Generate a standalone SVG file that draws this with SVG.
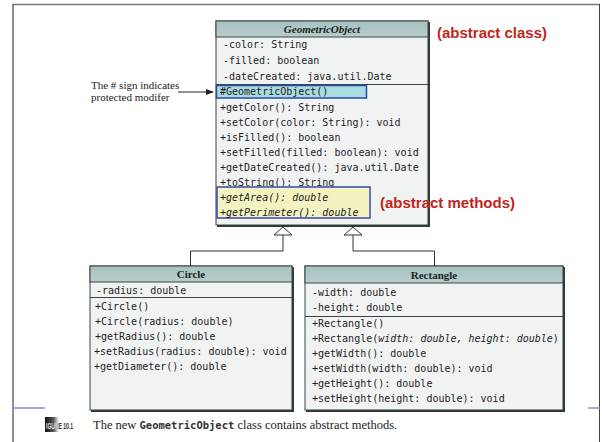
<svg xmlns="http://www.w3.org/2000/svg" width="602" height="442" viewBox="0 0 602 442">
<defs>
<linearGradient id="hdr" x1="0" y1="0" x2="0" y2="1">
<stop offset="0" stop-color="#a7c2bf"/><stop offset="1" stop-color="#b7cecb"/>
</linearGradient>
<linearGradient id="fig" x1="0" y1="0" x2="1" y2="0">
<stop offset="0" stop-color="#111"/><stop offset="0.6" stop-color="#555"/><stop offset="1" stop-color="#fff"/>
</linearGradient>
<linearGradient id="figtxt" x1="0" y1="0" x2="1" y2="0">
<stop offset="0" stop-color="#eee"/><stop offset="0.4" stop-color="#ccc"/><stop offset="0.5" stop-color="#333"/><stop offset="1" stop-color="#333"/>
</linearGradient>
<marker id="arr" markerWidth="8" markerHeight="6" refX="7" refY="3" orient="auto" markerUnits="userSpaceOnUse">
<path d="M0,0 L8,3 L0,6 z" fill="#222"/>
</marker>
</defs>
<style>
.box{fill:#f1f3f3;stroke:#3a4444;stroke-width:1}
.shadow{fill:none;stroke:#2f3a3a;stroke-width:2}
.hdr{fill:url(#hdr);stroke:#3a4444;stroke-width:1}
.sep{stroke:#3a4444;stroke-width:1}
.m{font-family:"DejaVu Sans Mono","Liberation Mono",monospace;font-size:10px;fill:#1e1e1e}
.it{font-style:italic}
.title{font-family:"Liberation Serif","DejaVu Serif",serif;font-weight:bold;font-size:11px;fill:#1e1e1e}
.red{font-family:"Liberation Sans",Arial,sans-serif;font-weight:bold;font-size:15px;fill:#c0251d}
.note{font-family:"Liberation Serif",serif;font-size:11px;fill:#222}
.conn{fill:none;stroke:#333;stroke-width:1}
.tri{fill:#fff;stroke:#333;stroke-width:1}
</style>
<rect width="602" height="442" fill="#fff"/>
<g id="frame">
<line x1="13" y1="4.5" x2="600" y2="4.5" stroke="#7a7a7a" stroke-width="1.5"/>
<line x1="13" y1="4" x2="13" y2="442" stroke="#222" stroke-width="1"/>
<line x1="599.5" y1="4" x2="599.5" y2="442" stroke="#444" stroke-width="1"/>
<line x1="13" y1="408" x2="45" y2="408" stroke="#8a8ad0" stroke-width="1.5"/>
<line x1="588" y1="408" x2="600" y2="408" stroke="#8a8ad0" stroke-width="1.5"/>
</g>
<g id="GeometricObject">
<rect class="box" x="216" y="21" width="212" height="204"/>
<path class="shadow" d="M429,22 L429,226 L217,226"/>
<rect class="hdr" x="216" y="21" width="212" height="16"/>
<text class="title it" x="322" y="33" text-anchor="middle">GeometricObject</text>
<text class="m" x="223" y="48">-color: String</text>
<text class="m" x="223" y="64">-filled: boolean</text>
<text class="m" x="223" y="80">-dateCreated: java.util.Date</text>
<line class="sep" x1="216" y1="84.5" x2="428" y2="84.5"/>
<rect x="216.5" y="85.5" width="150" height="12.5" fill="#a9dce0" stroke="#2a48a8" stroke-width="1.5"/>
<text class="m" x="220" y="95">#GeometricObject()</text>
<text class="m" x="220" y="111">+getColor(): String</text>
<text class="m" x="220" y="126">+setColor(color: String): void</text>
<text class="m" x="220" y="141">+isFilled(): boolean</text>
<text class="m" x="220" y="156">+setFilled(filled: boolean): void</text>
<text class="m" x="220" y="171">+getDateCreated(): java.util.Date</text>
<text class="m" x="220" y="186">+toString(): String</text>
<rect x="217" y="187" width="153" height="31" fill="#f3f3c2" stroke="#3a4aa8" stroke-width="1.5"/>
<text class="m it" x="220" y="201">+getArea(): double</text>
<text class="m it" x="220" y="216">+getPerimeter(): double</text>
</g>
<g id="Circle">
<rect class="box" x="90" y="266" width="202" height="144"/>
<path class="shadow" d="M293,267 L293,411 L91,411"/>
<rect class="hdr" x="90" y="266" width="202" height="16"/>
<text class="title" x="191" y="278" text-anchor="middle">Circle</text>
<text class="m" x="96" y="294">-radius: double</text>
<line class="sep" x1="90" y1="297.5" x2="292" y2="297.5"/>
<text class="m" x="95" y="310">+Circle()</text>
<text class="m" x="95" y="325">+Circle(radius: double)</text>
<text class="m" x="95" y="340">+getRadius(): double</text>
<text class="m" x="94" y="355">+setRadius(radius: double): void</text>
<text class="m" x="94" y="370">+getDiameter(): double</text>
</g>
<g id="Rectangle">
<rect class="box" x="305" y="266" width="258" height="144"/>
<path class="shadow" d="M564,267 L564,411 L306,411"/>
<rect class="hdr" x="305" y="266" width="258" height="17"/>
<text class="title" x="434" y="279" text-anchor="middle">Rectangle</text>
<text class="m" x="312" y="296">-width: double</text>
<text class="m" x="312" y="311">-height: double</text>
<line class="sep" x1="305" y1="316.5" x2="563" y2="316.5"/>
<text class="m" x="312" y="327">+Rectangle()</text>
<text class="m" x="312" y="342">+Rectangle(<tspan class="it">width: double, height: double</tspan>)</text>
<text class="m" x="312" y="357">+getWidth(): double</text>
<text class="m" x="312" y="372">+setWidth(width: double): void</text>
<text class="m" x="312" y="387">+getHeight(): double</text>
<text class="m" x="312" y="402">+setHeight(height: double): void</text>
</g>
<g id="connectors">
<path class="conn" d="M283,235 L283,251 L190.5,251 L190.5,266"/>
<path class="conn" d="M353,235 L353,251 L434.5,251 L434.5,266"/>
<path class="tri" d="M283,227 L274,235 L292,235 z"/>
<path class="tri" d="M353,227 L344,235 L362,235 z"/>
<line x1="178" y1="92" x2="213" y2="92" stroke="#222" stroke-width="1" marker-end="url(#arr)"/>
</g>
<g id="labels">
<text class="red" x="437" y="38">(abstract class)</text>
<text class="red" x="380" y="208">(abstract methods)</text>
<text class="note" x="91" y="89">The # sign indicates</text>
<text class="note" x="91" y="101">protected modifer</text>
</g>
<g id="caption">
<rect x="45" y="417" width="14" height="15" fill="url(#fig)"/>
<text x="46" y="429" font-family="Liberation Sans,sans-serif" font-weight="bold" font-size="9" fill="url(#figtxt)" textLength="27" lengthAdjust="spacingAndGlyphs">IGURE 10.1</text>
<text x="93" y="429" font-family="Liberation Serif,serif" font-size="12.5" fill="#222">The new <tspan font-family="DejaVu Sans Mono,monospace" font-weight="bold" font-size="10.5" fill="#333">GeometricObject</tspan> class contains abstract methods.</text>
</g>
</svg>
